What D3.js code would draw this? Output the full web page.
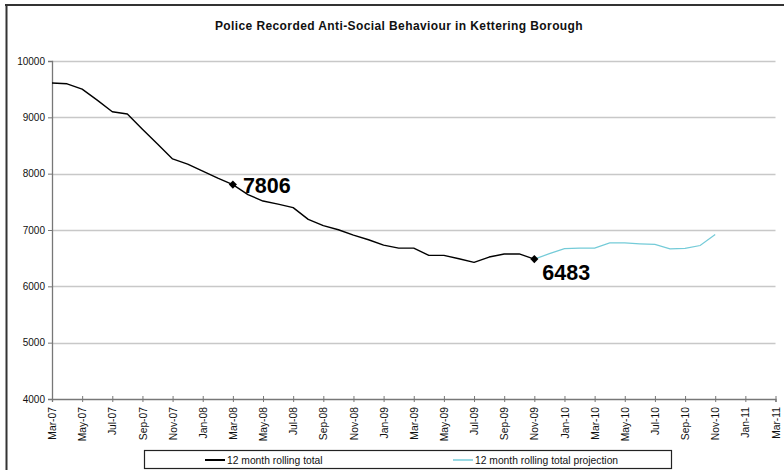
<!DOCTYPE html>
<html>
<head>
<meta charset="utf-8">
<script src="https://cdn.jsdelivr.net/npm/d3@7"></script>
<style>
  html, body { margin: 0; padding: 0; background: #fff; }
  svg { display: block; font-family: Arial, "Liberation Sans", sans-serif; }
</style>
</head>
<body>
<svg id="chart" width="784" height="470"></svg>
<script>
// ---- data ----
const title = "Police Recorded Anti-Social Behaviour in Kettering Borough";
const tickLabels = ["Mar-07","May-07","Jul-07","Sep-07","Nov-07","Jan-08","Mar-08","May-08","Jul-08","Sep-08","Nov-08","Jan-09","Mar-09","May-09","Jul-09","Sep-09","Nov-09","Jan-10","Mar-10","May-10","Jul-10","Sep-10","Nov-10","Jan-11","Mar-11"];
// monthly values, Mar-07 .. Nov-09
const actualStart = 0;
const actual = [9610, 9595, 9500, 9305, 9100, 9060, 8790, 8525, 8262, 8170, 8045, 7920, 7806, 7628, 7514, 7460, 7397, 7189, 7077, 7005, 6910, 6827, 6731, 6678, 6678, 6550, 6550, 6490, 6425, 6520, 6575, 6575, 6483];
// monthly projection, Nov-09 .. Nov-10
const projectionStart = 32;
const projection = [6483, 6580, 6670, 6680, 6680, 6770, 6770, 6755, 6745, 6665, 6675, 6725, 6920];
const yTicks = [4000, 5000, 6000, 7000, 8000, 9000, 10000];
const highlighted = [12, 32]; // month indexes labelled (Mar-08, Nov-09)
const seriesNames = ["12 month rolling total", "12 month rolling total projection"];
const seriesColors = ["#000000", "#74cbd8"];

// ---- layout ----
const svg = d3.select("#chart");
const x = d3.scaleLinear().domain([0, 48]).range([52, 775.5]);
const y = d3.scaleLinear().domain([4000, 10000]).range([399, 61]);

// outer border (top and left)
svg.append("line").attr("x1", 5).attr("x2", 784).attr("y1", 5).attr("y2", 5)
  .attr("stroke", "#333").attr("stroke-width", 2);
svg.append("line").attr("x1", 6.5).attr("x2", 6.5).attr("y1", 4).attr("y2", 470)
  .attr("stroke", "#333").attr("stroke-width", 2);

// title
svg.append("text").attr("x", 399).attr("y", 29.5).attr("text-anchor", "middle")
  .attr("font-size", "12px").attr("letter-spacing", "0.4px")
  .attr("font-weight", "bold").attr("fill", "#111").text(title);

// gridlines
svg.append("g").selectAll("line").data(yTicks.filter(d => d > 4000)).join("line")
  .attr("x1", x(0)).attr("x2", x(48))
  .attr("y1", d => Math.round(y(d)) + 0.5).attr("y2", d => Math.round(y(d)) + 0.5)
  .attr("stroke", "#c8c8c8").attr("stroke-width", 1.3);

// y axis
const yAxis = d3.axisLeft(y).tickValues(yTicks).tickSize(4).tickPadding(3).tickFormat(d3.format("d"));
const gy = svg.append("g").attr("transform", `translate(${x(0)},0)`).call(yAxis);
gy.select(".domain").attr("stroke", "#777").attr("stroke-width", 1.3);
gy.selectAll(".tick line").attr("stroke", "#777");
gy.selectAll(".tick text").attr("font-size", "10px").attr("fill", "#111").attr("font-family", "Arial, 'Liberation Sans', sans-serif");

// x axis
const xAxis = d3.axisBottom(x).tickValues(d3.range(0, 49, 2)).tickSize(3)
  .tickFormat((d, i) => tickLabels[i]);
const gx = svg.append("g").attr("transform", `translate(0,${y(4000)})`).call(xAxis);
gx.select(".domain").attr("stroke", "#777").attr("stroke-width", 1.3);
gx.selectAll(".tick line").attr("stroke", "#777").attr("y1", -3).attr("y2", 3);
gx.selectAll(".tick text")
  .attr("font-size", "10.3px").attr("fill", "#111").attr("font-family", "Arial, 'Liberation Sans', sans-serif")
  .attr("text-anchor", "end").attr("transform", "rotate(-90)")
  .attr("x", -8).attr("y", 0).attr("dy", "0.35em");

// lines
const line = d3.line().x(d => x(d[0])).y(d => y(d[1]));
const actualPts = actual.map((v, i) => [actualStart + i, v]);
const projPts = projection.map((v, i) => [projectionStart + i, v]);
svg.append("path").datum(projPts).attr("d", line).attr("fill", "none")
  .attr("stroke", seriesColors[1]).attr("stroke-width", 1.2);
svg.append("path").datum(actualPts).attr("d", line).attr("fill", "none")
  .attr("stroke", seriesColors[0]).attr("stroke-width", 1.4).attr("stroke-linejoin", "round");

// highlighted markers and labels
const hl = highlighted.map(i => [i, actual[i - actualStart]]);
svg.append("g").selectAll("path").data(hl).join("path")
  .attr("d", d3.symbol().type(d3.symbolDiamond2).size(42))
  .attr("transform", d => `translate(${x(d[0])},${y(d[1])})`)
  .attr("fill", "#000");
svg.append("text").attr("x", x(hl[0][0]) + 10).attr("y", y(hl[0][1]) + 8.5)
  .attr("font-size", "21.5px").attr("font-weight", "bold").attr("fill", "#000").text(hl[0][1]);
svg.append("text").attr("x", x(hl[1][0]) + 8).attr("y", y(hl[1][1]) + 21)
  .attr("font-size", "21.5px").attr("font-weight", "bold").attr("fill", "#000").text(hl[1][1]);

// legend
const lg = svg.append("g");
lg.append("rect").attr("x", 144.5).attr("y", 450.5).attr("width", 527).attr("height", 18)
  .attr("fill", "#fff").attr("stroke", "#222").attr("stroke-width", 1.2);
const legendX = [205, 453];
seriesNames.forEach((name, i) => {
  lg.append("line").attr("x1", legendX[i]).attr("x2", legendX[i] + 20).attr("y1", 460).attr("y2", 460)
    .attr("stroke", seriesColors[i]).attr("stroke-width", i === 0 ? 2 : 1.5);
  lg.append("text").attr("x", legendX[i] + 22).attr("y", 463.5).attr("font-size", "10.3px")
    .attr("fill", "#111").text(name);
});
</script>
</body>
</html>
